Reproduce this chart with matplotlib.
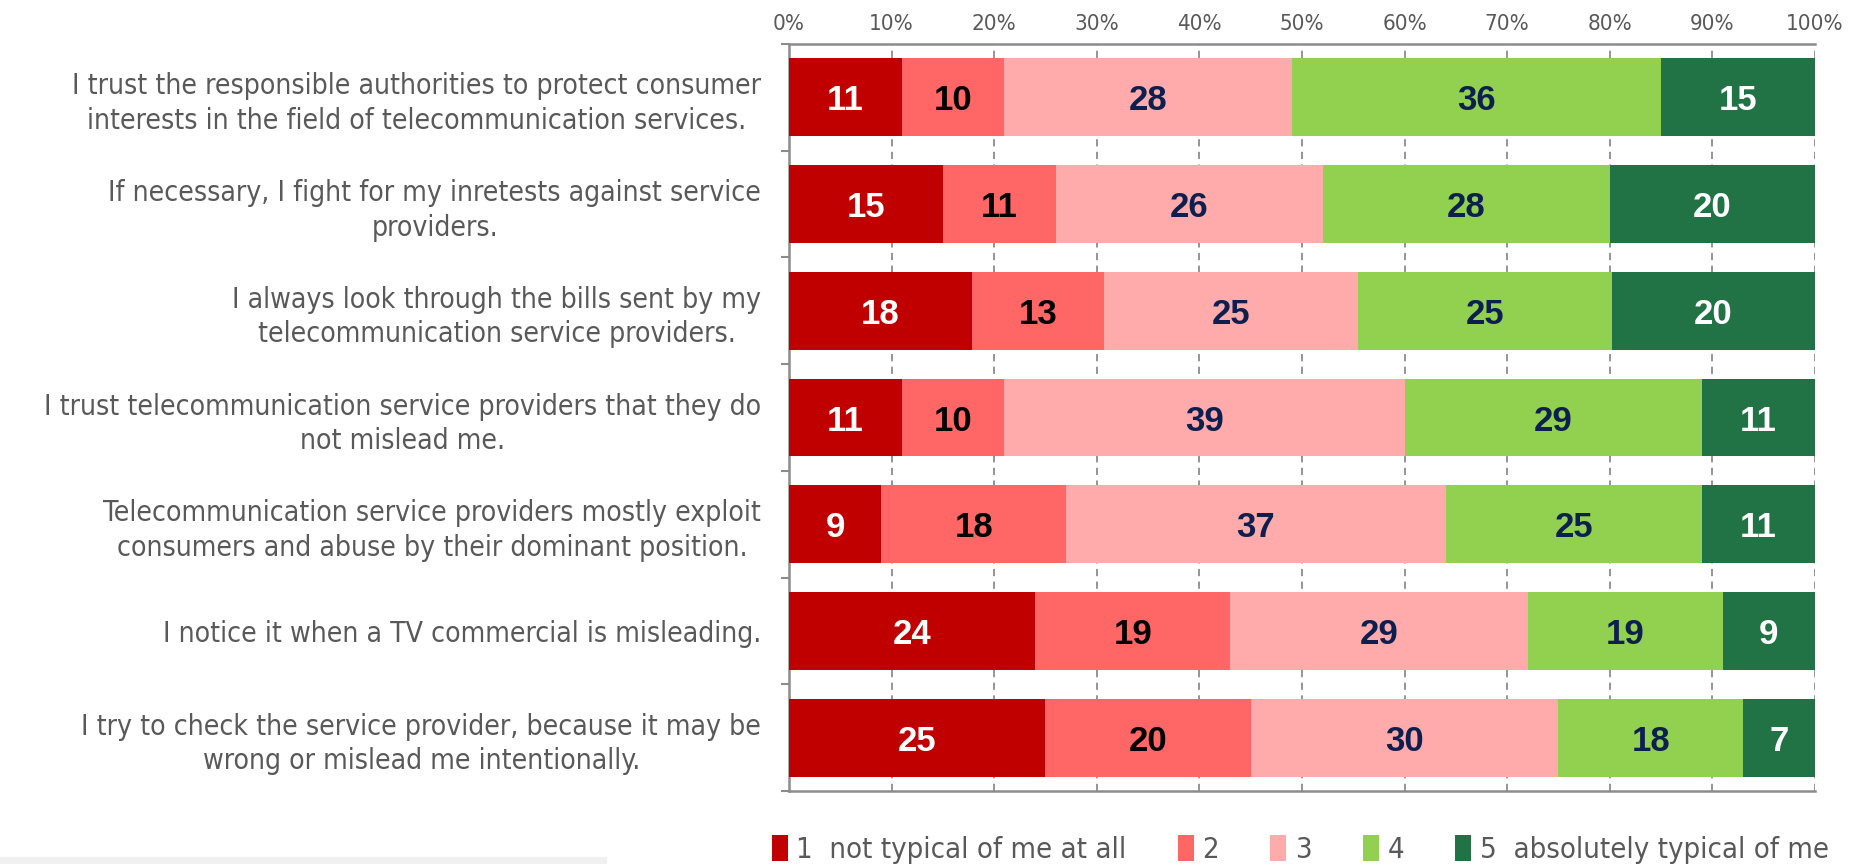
import numpy as np
import matplotlib.pyplot as plt
from matplotlib.patches import Rectangle
from matplotlib.ticker import FixedLocator, PercentFormatter
from matplotlib.font_manager import FontProperties

statements = [
    "I trust the responsible authorities to protect consumer\ninterests in the field of telecommunication services.",
    "If necessary, I fight for my inretests against service\nproviders.",
    "I always look through the bills sent by my\ntelecommunication service providers.",
    "I trust telecommunication service providers that they do\nnot mislead me.",
    "Telecommunication service providers mostly exploit\nconsumers and abuse by their dominant position.",
    "I notice it when a TV commercial is misleading.",
    "I try to check the service provider, because it may be\nwrong or mislead me intentionally.",
]

score_1 = [11, 15, 18, 11, 9, 24, 25]
score_2 = [10, 11, 13, 10, 18, 19, 20]
score_3 = [28, 26, 25, 39, 37, 29, 30]
score_4 = [36, 28, 25, 29, 25, 19, 18]
score_5 = [15, 20, 20, 11, 11, 9, 7]

legend_labels = ["1  not typical of me at all", "2", "3", "4", "5  absolutely typical of me"]

colors = ["#C00000", "#FF6666", "#FFABAB", "#92D050", "#217346"]
text_colors = ["white", "black", "#0D1F4F", "#0D1F4F", "white"]

grey = "#595959"


def narrow(size):
    return FontProperties(family="DejaVu Sans", stretch="condensed", size=size)


series = np.array([score_1, score_2, score_3, score_4, score_5], dtype=float)
shares = series / series.sum(axis=0)  # 100% stacked

fig = plt.figure(figsize=(18.56, 8.64), dpi=100)
ax = fig.add_axes([0.4251, 0.0845, 0.5528, 0.8645])

y = np.arange(len(statements))
left = np.zeros(len(statements))
handles = []
for k in range(5):
    bars = ax.barh(y, shares[k], left=left, height=0.73, color=colors[k],
                   edgecolor="none", zorder=3, label=legend_labels[k])
    handles.append(bars)
    for i in range(len(statements)):
        ax.text(left[i] + shares[k][i] / 2, y[i], f"{int(series[k][i])}",
                ha="center", va="center_baseline", fontsize=25,
                fontweight="bold", family=["Liberation Sans", "DejaVu Sans"],
                color=text_colors[k], zorder=4)
    left += shares[k]

ax.set_xlim(0, 1)
ax.set_ylim(len(statements) - 0.5, -0.5)

# percent axis on top, dashed gridlines
ax.xaxis.set_major_locator(FixedLocator(np.linspace(0, 1, 11)))
ax.xaxis.set_major_formatter(PercentFormatter(1.0, decimals=0))
ax.xaxis.tick_top()
ax.tick_params(axis="x", length=0, pad=7, labelcolor=grey)
for lbl in ax.get_xticklabels():
    lbl.set_fontproperties(narrow(16))
ax.grid(axis="x", color="#8C8C8C", linestyle=(0, (4, 3)), linewidth=1.3, zorder=1)

# statements on the left, boundary ticks between rows
ax.set_yticks(y)
ax.set_yticklabels(statements)
ax.yaxis.set_minor_locator(FixedLocator(np.arange(-0.5, len(statements), 1.0)))
ax.tick_params(axis="y", which="major", length=0, pad=20, labelcolor=grey)
ax.tick_params(axis="y", which="minor", length=6, width=1.5, color="#8C8C8C")
for lbl in ax.get_yticklabels():
    lbl.set_fontproperties(narrow(20.3))
    lbl.set_multialignment("center")
    lbl.set_linespacing(1.3)

for side in ["left", "top", "bottom"]:
    ax.spines[side].set_color("#8C8C8C")
    ax.spines[side].set_linewidth(1.8)
ax.spines["right"].set_visible(False)

leg = fig.legend(handles=handles, loc="lower center", ncol=5,
                 bbox_to_anchor=(0.7006, -0.03), frameon=False,
                 prop=narrow(21),
                 handlelength=0.55, handleheight=1.0, handletextpad=0.3,
                 columnspacing=1.75)
for t in leg.get_texts():
    t.set_color(grey)

fig.patches.append(Rectangle((0, 0), 0.3265, 0.008, transform=fig.transFigure,
                             color="#F0F0F0", zorder=0))

fig.savefig("out.png", dpi=100)
